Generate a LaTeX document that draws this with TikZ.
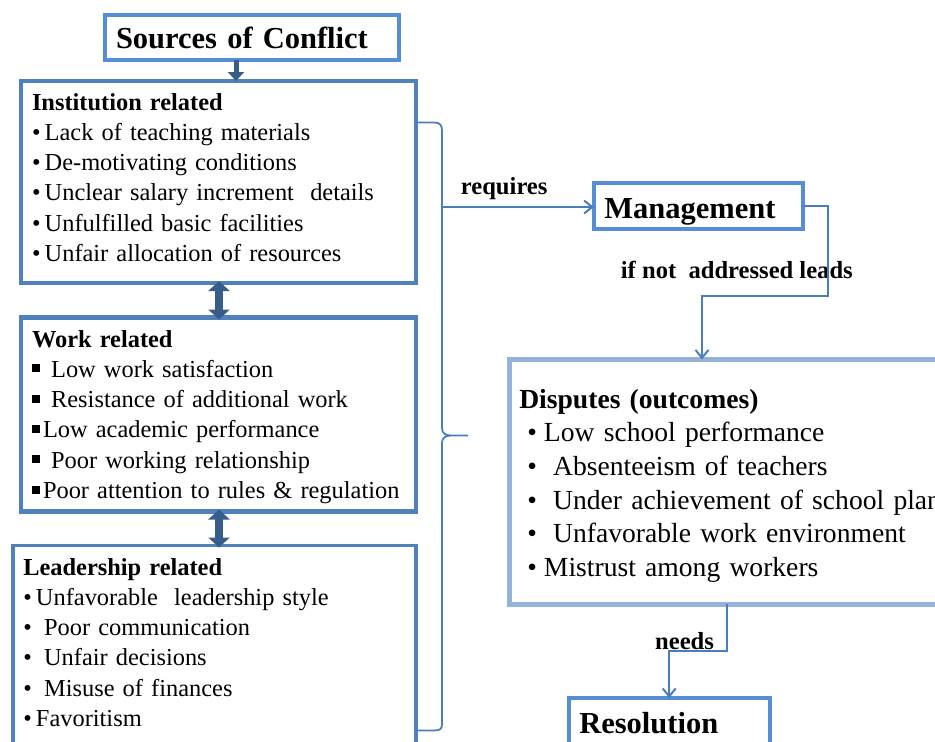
\documentclass[tikz,border=0pt]{standalone}
\usepackage{fontspec}
\setmainfont{Liberation Serif}
\usetikzlibrary{arrows.meta,positioning}
\definecolor{boxblue}{HTML}{4F81BD}
\definecolor{brightblue}{HTML}{558ED5}
\definecolor{paleblue}{HTML}{95B3D7}
\definecolor{darkblue}{HTML}{385D8A}
\definecolor{lineblue}{HTML}{4A7EBB}
% bullets
\newcommand{\dotbul}[1][12.7pt]{\makebox[#1][l]{\textbullet}}
\newcommand{\sqbul}{\makebox[11pt][l]{\raisebox{5pt}{\rule{8pt}{8pt}}}}

\begin{document}
\begin{tikzpicture}[x=1pt, y=-1pt]
% styles
\tikzset{listbox/.style={draw=boxblue, line width=4.5pt, outer sep=0pt, anchor=north west, align=left,
           inner xsep=11pt, inner ysep=8pt, font=\fontsize{24.4}{30.3}\selectfont},
         titlebox/.style={draw=brightblue, line width=4pt, outer sep=0pt, anchor=north west, align=left,
           inner xsep=10.6pt, inner ysep=4pt, font=\fontsize{30.5}{36}\selectfont\bfseries},
         lbl/.style={anchor=base west, inner sep=0pt, font=\fontsize{24.6}{28}\selectfont\bfseries},
         bigarrow/.style={darkblue, line width=5pt, -{Triangle[width=16pt,length=9pt]}},
         dblarrow/.style={darkblue, line width=8pt, {Triangle[width=21pt,length=10pt]}-{Triangle[width=21pt,length=10pt]},
           shorten <=-2pt, shorten >=-2pt},
         link/.style={lineblue, line width=2pt},
         linkarrow/.style={link, -{Straight Barb[length=8pt,width=13pt]}}}
\useasboundingbox (0,0) rectangle (935,742);
\clip (0,0) rectangle (935,742);

%boxes
\node[titlebox, inner xsep=11pt, text width=272pt, text height=29pt, text depth=8pt] (src) at (105,15) {Sources of Conflict};
\node[listbox, text width=373pt, text height=21pt, text depth=165pt] (inst) at (21,81)
  {\textbf{Institution related}\\
   \dotbul Lack of teaching materials\\
   \dotbul De-motivating conditions\\
   \dotbul Unclear salary increment~ details\\
   \dotbul Unfulfilled basic facilities\\
   \dotbul Unfair allocation of resources};
\node[listbox, text width=373pt, text height=21.5pt, text depth=156.5pt] (work) at (21,317.5)
  {\textbf{Work related}\\
   \sqbul\ Low work satisfaction\\
   \sqbul\ Resistance of additional work\\
   \sqbul Low academic performance\\
   \sqbul\ Poor working relationship\\
   \mbox{\sqbul Poor attention to rules \& regulation}};
\node[listbox, line width=3.5pt, inner xsep=10.3pt, text width=382.4pt, text height=21.5pt, text depth=200pt] (lead) at (13,545.5)
  {\textbf{Leadership related}\\
   \dotbul Unfavorable~ leadership style\\
   \dotbul\ Poor communication\\
   \dotbul\ Unfair decisions\\
   \dotbul\ Misuse of finances\\
   \dotbul Favoritism};
\node[titlebox, text width=188.1pt, text height=31.6pt, text depth=6.4pt] (mgmt) at (593.7,182.7) {Management};
\node[listbox, draw=paleblue, line width=5pt, inner xsep=10.3pt, text width=470pt, text height=40.8pt, text depth=187.7pt,
      font=\fontsize{27.6}{33.6}\selectfont] (disp) at (509,359.5)
  {\textbf{Disputes (outcomes)}\\
   \hspace*{8pt}\dotbul[16.7pt]Low school performance\\
   \hspace*{8pt}\dotbul[16.7pt]\ Absenteeism of teachers\\
   \hspace*{8pt}\dotbul[16.7pt]\ Under achievement of school plan\\
   \hspace*{8pt}\dotbul[16.7pt]\ Unfavorable work environment\\
   \hspace*{8pt}\dotbul[16.7pt]Mistrust among workers};
\node[titlebox, text width=179.8pt, text height=31.3pt, text depth=40pt] (res) at (568.7,698) {Resolution};

%labels
\node[lbl] (reqlbl) at (460.7,194) {requires};
\node[lbl] (leadslbl) at (620.7,278.3) {if not~ addressed leads};
\node[lbl] (needslbl) at (655,649.3) {needs};

%brace
\draw[link, line width=1.8pt] (416,122.5) -- (434,122.5) .. controls (440,122.5) and (442,125) .. (442,131)
  -- (442,428) .. controls (442,433) and (445,435.5) .. (451,435.5) -- (468,435.5)
  (451,435.5) .. controls (445,435.5) and (442,438) .. (442,443)
  -- (442,724) .. controls (442,729) and (440,730.5) .. (434,730.5) -- (416,730.5);

%arrows
\draw[bigarrow] (src.south -| 236,0) -- (inst.north -| 236,0);
\draw[dblarrow] (inst.south -| 219,0) -- (work.north -| 219,0);
\draw[dblarrow] (work.south -| 219,0) -- (lead.north -| 219,0);
\coordinate (reqfrom) at (442,207);
\draw[linkarrow] (reqfrom) -- (reqfrom -| mgmt.west);
\draw[linkarrow] (mgmt.east) -| ++(25,90) -| (disp.north -| 702,0);
\draw[linkarrow] (disp.south -| 727,0) -- ++(0,47) -| (res.north);
\end{tikzpicture}
\end{document}
